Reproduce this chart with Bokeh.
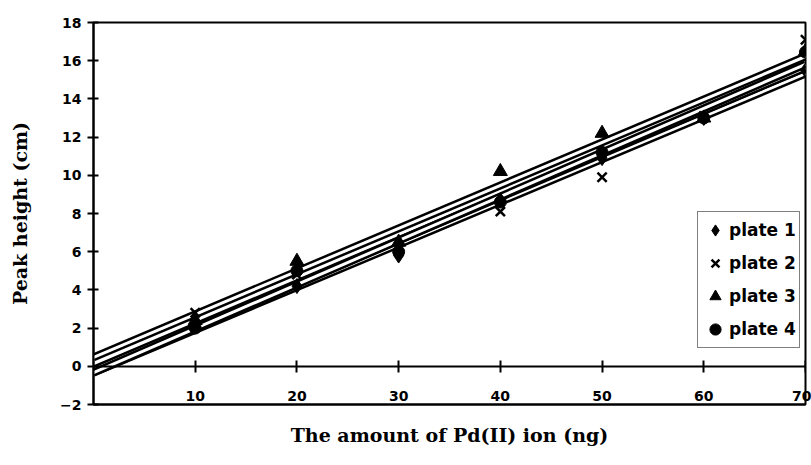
import numpy as np
from bokeh.plotting import figure
from bokeh.models import Range1d, FixedTicker, Legend, LegendItem, LinearAxis
from bokeh.embed import file_html
from bokeh.resources import INLINE

# Peak height (cm) of Pd(II) spots on four TLC plates
amount_ng = [10, 20, 30, 40, 50, 60, 70]
plate1 = [2.2, 4.2, 5.8, 8.7, 10.9, 13.0, 15.5]
plate2 = [2.8, 4.8, 6.2, 8.1, 9.9, 13.1, 17.1]
plate3 = [2.4, 5.5, 6.5, 10.2, 12.2, 13.0, 16.5]
plate4 = [2.0, 5.0, 6.0, 8.6, 11.2, 13.0, 16.45]

x_ticks = [10, 20, 30, 40, 50, 60, 70]
y_ticks = [-2, 0, 2, 4, 6, 8, 10, 12, 14, 16, 18]

SANS = "DejaVu Sans"
SERIF = "DejaVu Serif"

p = figure(width=811, height=465, output_backend="svg", toolbar_location=None,
           x_range=Range1d(0, 70), y_range=Range1d(-2, 18),
           min_border_left=93, min_border_right=6, min_border_top=22,
           min_border_bottom=61)
p.background_fill_color = "white"
p.border_fill_color = "white"
p.outline_line_color = "black"
p.outline_line_width = 2
p.grid.visible = False

# y axis on the left edge, ticks crossing the line
ya = p.yaxis[0]
ya.ticker = FixedTicker(ticks=y_ticks)
ya.axis_line_width = 2
ya.major_tick_line_width = 2
ya.major_tick_in = 5
ya.major_tick_out = 6
ya.minor_tick_line_color = None
ya.major_label_text_font = SANS
ya.major_label_text_font_style = "bold"
ya.major_label_text_font_size = "14px"
ya.major_label_text_color = "black"
ya.major_label_standoff = 6
ya.axis_label = "Peak height (cm)"
ya.axis_label_text_font = SERIF
ya.axis_label_text_font_style = "bold"
ya.axis_label_text_font_size = "19px"
ya.axis_label_text_color = "black"
ya.axis_label_standoff = 26

# bottom axis: tick labels sit just above the lower edge, title below it
xa = p.xaxis[0]
xa.ticker = FixedTicker(ticks=x_ticks)
xa.axis_line_width = 2
xa.major_tick_line_color = None
xa.major_tick_in = 0
xa.major_tick_out = 0
xa.minor_tick_line_color = None
xa.major_label_text_font = SANS
xa.major_label_text_font_style = "bold"
xa.major_label_text_font_size = "14px"
xa.major_label_text_color = "black"
xa.major_label_standoff = -14
xa.axis_label = "The amount of Pd(II) ion (ng)"
xa.axis_label_text_font = SERIF
xa.axis_label_text_font_style = "bold"
xa.axis_label_text_font_size = "19px"
xa.axis_label_text_color = "black"
xa.axis_label_standoff = 20

# zero line with ticks crossing it
xa0 = LinearAxis(fixed_location=0, ticker=FixedTicker(ticks=x_ticks))
xa0.axis_line_width = 2
xa0.major_tick_line_width = 2
xa0.major_tick_in = 6
xa0.major_tick_out = 6
xa0.minor_tick_line_color = None
xa0.major_label_text_color = None
xa0.major_label_text_font_size = "1px"
xa0.major_label_standoff = 0
p.add_layout(xa0, "below")

# linear fits drawn as hollow (outlined) lines
series = [plate1, plate2, plate3, plate4]
xs_fit = np.array([0.0, 70.0])
for ys in series:
    k, b = np.polyfit(amount_ng, ys, 1)
    yy = k * xs_fit + b
    p.line(xs_fit, yy, line_color="black", line_width=8)
    p.line(xs_fit, yy, line_color="white", line_width=3)

r1 = p.scatter(amount_ng, plate1, marker="diamond", size=15, fill_color="black",
               line_color="black")
r2 = p.scatter(amount_ng, plate2, marker="x", size=13, line_color="black",
               line_width=2.5)
r3 = p.scatter(amount_ng, plate3, marker="triangle", size=14, fill_color="black",
               line_color="black")
r4 = p.scatter(amount_ng, plate4, marker="circle", size=12, fill_color="black",
               line_color="black")

legend = Legend(items=[LegendItem(label="plate 1", renderers=[r1]),
                       LegendItem(label="plate 2", renderers=[r2]),
                       LegendItem(label="plate 3", renderers=[r3]),
                       LegendItem(label="plate 4", renderers=[r4])],
                location=(604, 56), orientation="vertical",
                border_line_color="black", border_line_width=1.5,
                background_fill_color="white", background_fill_alpha=1,
                label_text_font=SANS, label_text_font_style="bold",
                label_text_font_size="17px", label_text_color="black",
                glyph_width=28, glyph_height=30,
                label_height=30, spacing=3, padding=3, margin=0,
                label_standoff=0)
p.add_layout(legend, "center")

open("out.html", "w").write(file_html(p, INLINE))
